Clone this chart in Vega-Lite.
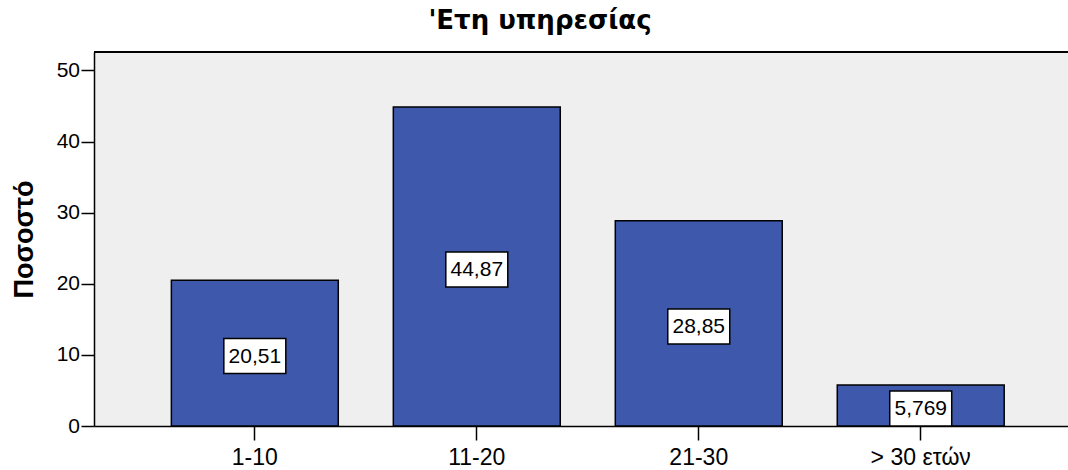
{
  "$schema": "https://vega.github.io/schema/vega-lite/v6.json",
  "autosize": {"type": "none"},
  "padding": {"left": 94, "top": 52, "right": 0, "bottom": 44},
  "width": 974,
  "height": 374,
  "background": "white",
  "title": {
    "text": "'Ετη υπηρεσίας",
    "anchor": "middle",
    "frame": "group",
    "font": "DejaVu Sans",
    "fontSize": 26,
    "fontWeight": "bold",
    "color": "black",
    "baseline": "alphabetic",
    "offset": -4,
    "dx": -41
  },
  "data": {
    "values": [
      {"group": "1-10", "pct": 20.51},
      {"group": "11-20", "pct": 44.87},
      {"group": "21-30", "pct": 28.85},
      {"group": "> 30 ετών", "pct": 5.769}
    ]
  },
  "layer": [
    {
      "mark": {"type": "bar", "fill": "#3e58ab", "stroke": "black", "strokeWidth": 1.5},
      "encoding": {
        "x": {
          "field": "group",
          "type": "nominal",
          "sort": null,
          "scale": {"paddingInner": 0.248, "paddingOuter": 0.318, "align": 0.548},
          "axis": {
            "title": null,
            "labelAngle": 0,
            "labelFont": "Liberation Sans",
            "labelFontSize": 23,
            "labelColor": "black",
            "labelPadding": 6,
            "tickSize": 14,
            "tickColor": "black",
            "tickWidth": 1.5,
            "domainColor": "black",
            "domainWidth": 1.5,
            "grid": false
          }
        },
        "y": {
          "field": "pct",
          "type": "quantitative",
          "scale": {"domain": [0, 52.6], "nice": false},
          "axis": {
            "title": "Ποσοστό",
            "titleFont": "Liberation Sans",
            "titleFontSize": 27,
            "titleFontWeight": "bold",
            "titleColor": "black",
            "titlePadding": 18,
            "values": [0, 10, 20, 30, 40, 50],
            "labelFont": "Liberation Sans",
            "labelFontSize": 21,
            "labelColor": "black",
            "labelPadding": 1.5,
            "tickSize": 13,
            "tickColor": "black",
            "tickWidth": 1.5,
            "domainColor": "black",
            "domainWidth": 1.5,
            "grid": false
          }
        }
      }
    },
    {
      "mark": {"type": "rule", "color": "black", "strokeWidth": 2},
      "encoding": {
        "y": {"datum": 52.6, "type": "quantitative", "scale": {"domain": [0, 52.6], "nice": false}, "axis": null}
      }
    },
    {
      "mark": {
        "type": "point",
        "shape": "M-1.771,-1L1.771,-1L1.771,1L-1.771,1Z",
        "size": 1225,
        "filled": true,
        "fill": "white",
        "stroke": "black",
        "strokeWidth": 1.5,
        "opacity": 1,
        "yOffset": 3
      },
      "encoding": {
        "x": {"field": "group", "type": "nominal", "sort": null},
        "y": {"field": "pct", "type": "quantitative", "scale": {"domain": [0, 105.2], "nice": false}, "axis": null}
      }
    },
    {
      "mark": {
        "type": "text",
        "font": "Liberation Sans",
        "fontSize": 21,
        "color": "black",
        "baseline": "middle",
        "align": "center",
        "yOffset": 4
      },
      "encoding": {
        "x": {"field": "group", "type": "nominal", "sort": null},
        "y": {"field": "pct", "type": "quantitative", "scale": {"domain": [0, 105.2], "nice": false}, "axis": null},
        "text": {"field": "pct", "type": "quantitative", "format": ".4"}
      }
    }
  ],
  "resolve": {"scale": {"y": "independent"}},
  "config": {
    "view": {"fill": "#efefef", "stroke": null},
    "locale": {
      "number": {"decimal": ",", "thousands": ".", "grouping": [3], "currency": ["", " €"]}
    }
  }
}
